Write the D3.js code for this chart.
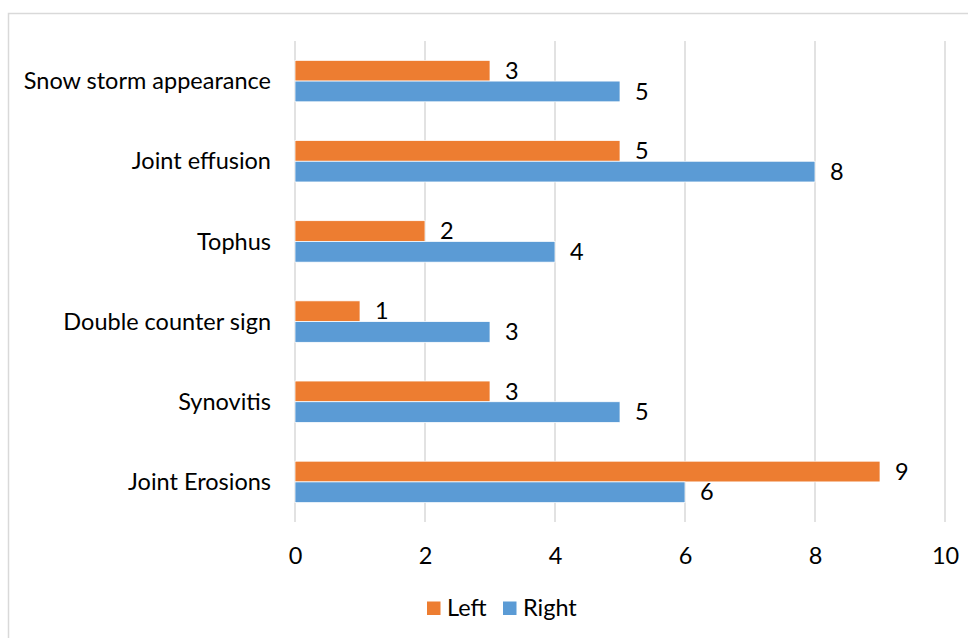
<!DOCTYPE html>
<html>
<head>
<meta charset="utf-8">
<script src="https://cdn.jsdelivr.net/npm/d3@7/dist/d3.min.js"></script>
<style>
  html, body { margin: 0; padding: 0; background: #fff; }
  svg { display: block; }
  text { font-family: Lato, "Open Sans", sans-serif; fill: #000; }
</style>
</head>
<body>
<svg id="chart" width="968" height="638"></svg>
<script>
// Findings per category, left and right side
const categories = ["Snow storm appearance", "Joint effusion", "Tophus", "Double counter sign", "Synovitis", "Joint Erosions"];
const leftValues = [3, 5, 2, 1, 3, 9];
const rightValues = [5, 8, 4, 3, 5, 6];
const seriesNames = ["Left", "Right"];
const seriesColors = ["#ED7D31", "#5B9BD5"];
const xTicks = [0, 2, 4, 6, 8, 10];

const svg = d3.select("#chart");
const W = 968, H = 638;
const plot = { left: 295, right: 945, top: 41, bottom: 522 };
const fontSize = 23.5;

// Chart frame
svg.append("rect")
  .attr("x", 8.5).attr("y", 13.5)
  .attr("width", W + 20).attr("height", H + 20)
  .attr("fill", "#fff").attr("stroke", "#d9d9d9").attr("stroke-width", 1.5);

const x = d3.scaleLinear().domain([0, 10]).range([plot.left, plot.right]);
const y = d3.scaleBand().domain(categories).range([plot.top, plot.bottom]).paddingInner(0.483).paddingOuter(0.2415);
const inner = d3.scaleBand().domain(seriesNames).range([0, y.bandwidth()]);

// Vertical gridlines
svg.append("g")
  .selectAll("line")
  .data(xTicks)
  .join("line")
  .attr("x1", d => x(d)).attr("x2", d => x(d))
  .attr("y1", plot.top).attr("y2", plot.bottom)
  .attr("stroke", "#d9d9d9").attr("stroke-width", 1.5);

// X axis tick labels
const xAxis = d3.axisBottom(x).tickValues(xTicks).tickSize(0).tickPadding(0);
const gx = svg.append("g")
  .attr("transform", `translate(0,${plot.bottom})`)
  .call(xAxis);
gx.select(".domain").remove();
gx.selectAll("text")
  .attr("y", 34).attr("dy", "0.35em")
  .style("font-size", fontSize + "px")
  .style("font-family", "Lato, 'Open Sans', sans-serif")
  .attr("fill", "#000");

// Category labels
const yAxis = d3.axisLeft(y).tickSize(0).tickPadding(0);
const gy = svg.append("g")
  .attr("transform", `translate(${plot.left - 24},0)`)
  .call(yAxis);
gy.select(".domain").remove();
gy.selectAll("text")
  .attr("dy", "0.35em")
  .style("font-size", fontSize + "px")
  .style("font-family", "Lato, 'Open Sans', sans-serif")
  .attr("fill", "#000");

// Bars
const rows = categories.map((c, i) => ({ category: c, values: [leftValues[i], rightValues[i]] }));
const groups = svg.append("g")
  .selectAll("g")
  .data(rows)
  .join("g")
  .attr("transform", d => `translate(0,${y(d.category)})`);

groups.selectAll("rect")
  .data(d => d.values.map((v, j) => ({ series: seriesNames[j], value: v, color: seriesColors[j] })))
  .join("rect")
  .attr("x", x(0))
  .attr("y", d => inner(d.series))
  .attr("width", d => x(d.value) - x(0))
  .attr("height", inner.bandwidth())
  .attr("fill", d => d.color)
  .attr("stroke", "#fff").attr("stroke-width", 0.75);

// Value labels
groups.selectAll("text")
  .data(d => d.values.map((v, j) => ({ series: seriesNames[j], value: v })))
  .join("text")
  .attr("x", d => x(d.value) + 15)
  .attr("y", d => inner(d.series) + inner.bandwidth() / 2)
  .attr("dy", "0.35em")
  .style("font-size", fontSize + "px")
  .text(d => d.value);

// Legend
const legend = svg.append("g").attr("transform", "translate(427,608)");
const legendX = [0, 76];
seriesNames.forEach((name, i) => {
  const g = legend.append("g").attr("transform", `translate(${legendX[i]},0)`);
  g.append("rect").attr("x", 0).attr("y", -6.5).attr("width", 13.5).attr("height", 13.5).attr("fill", seriesColors[i]);
  g.append("text").attr("x", 20).attr("y", 0).attr("dy", "0.35em").style("font-size", fontSize + "px").text(name);
});
</script>
</body>
</html>
